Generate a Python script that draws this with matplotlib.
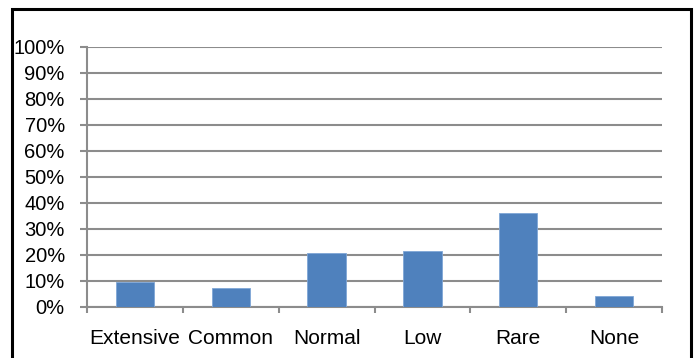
import matplotlib
matplotlib.use("Agg")
import matplotlib.pyplot as plt
from matplotlib.ticker import FixedLocator, PercentFormatter
from matplotlib.patches import Rectangle

categories = ["Extensive", "Common", "Normal", "Low", "Rare", "None"]
values = [9.5, 7.2, 20.9, 21.7, 36.2, 4.1]
yticks = [0, 10, 20, 30, 40, 50, 60, 70, 80, 90, 100]

plt.rcParams['font.family'] = ['Liberation Sans', 'DejaVu Sans']

W, H = 694, 358
fig = plt.figure(figsize=(W / 100, H / 100), dpi=100)
ax = fig.add_axes([87 / W, 1 - 307 / H, (662 - 87) / W, (307 - 47) / H])

x = list(range(len(categories)))
ax.bar(x, values, width=0.4, color="#4F81BD", edgecolor="#7fa6d6", linewidth=0.6, zorder=3)

ax.set_xlim(-0.5, len(categories) - 0.5)
ax.set_ylim(0, 100)
ax.set_yticks(yticks)
ax.yaxis.set_major_formatter(PercentFormatter(decimals=0))
ax.yaxis.grid(True, color="#8c8c8c", linewidth=1.5, zorder=0)

ax.set_xticks(x)
ax.set_xticklabels(categories)
ax.xaxis.set_minor_locator(FixedLocator([i - 0.5 for i in range(len(categories) + 1)]))
ax.tick_params(axis="x", which="major", length=0, pad=15.5, labelsize=15)
ax.tick_params(axis="x", which="minor", length=4, width=1.5, color="#8c8c8c", direction="out")
ax.tick_params(axis="y", length=5, width=1.5, color="#8c8c8c", pad=11, labelsize=14.5)

for s in ["top", "right"]:
    ax.spines[s].set_visible(False)
ax.spines["left"].set_color("#8c8c8c")
ax.spines["left"].set_linewidth(1.5)
ax.spines["bottom"].set_color("#8c8c8c")
ax.spines["bottom"].set_linewidth(1.5)

border = Rectangle((11.5 / W, -0.05), (691 - 11.5) / W, 1.05 - 9.5 / H,
                   transform=fig.transFigure, fill=False, edgecolor="black",
                   linewidth=2.2, clip_on=False)
fig.patches.append(border)

fig.savefig("out.png", dpi=100)
